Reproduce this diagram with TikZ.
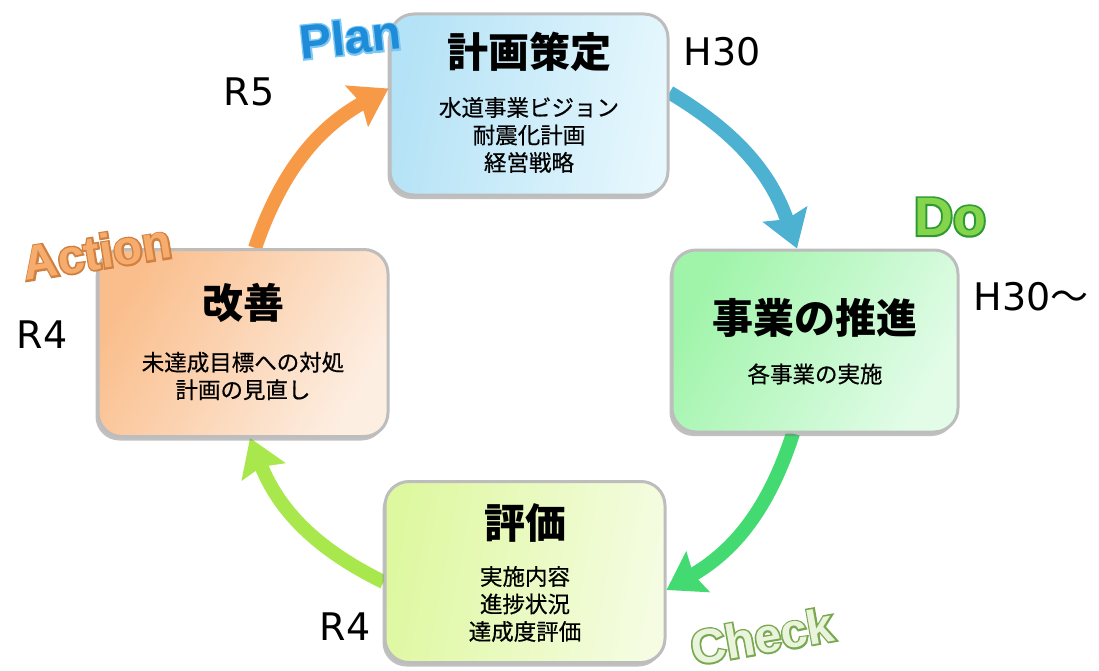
\documentclass[tikz,border=0pt]{standalone}
\usepackage{fontspec}
\setmainfont{DejaVu Sans}
\newfontfamily\cjk{Noto Sans CJK JP}
\newfontfamily\cjkm[FakeBold=0.6]{Noto Sans CJK JP}
\newfontfamily\waF{Liberation Sans Bold}
\newfontfamily\waO[FakeBold=7]{Liberation Sans Bold}
\usetikzlibrary{arrows.meta,shadows,calc,backgrounds}
\definecolor{cOrange}{HTML}{F79A48}
\definecolor{cBlue}{HTML}{4DB2D2}
\definecolor{cGreen}{HTML}{44DA72}
\definecolor{cLime}{HTML}{A8E84C}
\definecolor{bord}{HTML}{BDBDBD}
\definecolor{planA}{HTML}{B4E2F6}
\definecolor{planB}{HTML}{E6F7FD}
\definecolor{doA}{HTML}{A0F4AA}
\definecolor{doB}{HTML}{E2FCE8}
\definecolor{chkA}{HTML}{DEF8A0}
\definecolor{chkB}{HTML}{F5FCE2}
\definecolor{actA}{HTML}{FABE8C}
\definecolor{actB}{HTML}{FDEEE2}
\definecolor{waPlanF}{HTML}{1E8CD8}
\definecolor{waPlanO}{HTML}{7CC8F2}
\definecolor{waDoF}{HTML}{84D44C}
\definecolor{waDoO}{HTML}{2E9A34}
\definecolor{waChkF}{HTML}{EAF4DC}
\definecolor{waChkO}{HTML}{78A850}
\definecolor{waActF}{HTML}{F6AC6C}
\definecolor{waActO}{HTML}{D08040}
\tikzset{
  box/.style={draw=bord, line width=3pt, rounded corners=24pt,
    drop shadow={shadow xshift=-2.5pt, shadow yshift=-4pt, opacity=0.45, fill=black!55}},
  ttl/.style={font=\cjk\bfseries\fontsize{41}{46}\selectfont, inner sep=0pt},
  sub/.style={font=\cjkm\fontsize{22.5}{27.5}\selectfont, align=center, inner sep=0pt},
  arr/.style={line width=14pt, -{Stealth[length=36pt,width=46pt,inset=5pt]}},
  lab/.style={font=\fontsize{38}{40}\selectfont, inner sep=0pt},
  wa/.style={inner sep=0pt},
}
% word-art label: outline copy (emboldened) under a filled copy
\newcommand\wart[7]{%
  \node[wa,rotate=#3,text=#5,font=\waO\fontsize{#4}{#4}\selectfont] (#1-o) at (#2) {#7};
  \node[wa,rotate=#3,text=#6,font=\waF\fontsize{#4}{#4}\selectfont] (#1) at (#2) {#7};
}
\begin{document}
\begin{tikzpicture}[x=1pt,y=1pt]
\useasboundingbox (0,0) rectangle (1099,-671);

% boxes
\node[box, minimum width=278pt, minimum height=181pt,
  left color=planA, right color=planB, shading angle=80] (plan) at (529,-104.5) {};
\node[box, minimum width=286pt, minimum height=182pt,
  left color=doA, right color=doB, shading angle=60] (do) at (815,-341) {};
\node[box, minimum width=280pt, minimum height=181pt,
  left color=chkA, right color=chkB, shading angle=80] (chk) at (525,-572) {};
\node[box, minimum width=290pt, minimum height=187pt,
  left color=actA, right color=actB, shading angle=60] (act) at (243,-343) {};

% cycle arrows (behind the boxes)
\begin{pgfonlayer}{background}
\draw[arr, cOrange] ([xshift=12pt]act.north) to[bend left=21] ([yshift=16pt]plan.west);
\draw[arr, cBlue] ([yshift=12pt]plan.east) to[bend left=20] ([xshift=-18pt]do.north);
\draw[arr, cGreen] ([xshift=-22pt]do.south) to[bend left=21] ([yshift=-18pt]chk.east);
\draw[arr, cLime] ([yshift=-10pt]chk.west) to[bend left=21] ([xshift=7pt]act.south);
\end{pgfonlayer}

% box texts
\node[ttl] (plan-t) at ($(plan.center)+(0,52.5)$) {計画策定};
\node[sub] (plan-s) at ($(plan.center)+(0,-30.5)$) {水道事業ビジョン\\耐震化計画\\経営戦略};
\node[ttl] (do-t) at ($(do.center)+(0,23)$) {事業の推進};
\node[sub] (do-s) at ($(do.center)+(0,-33)$) {各事業の実施};
\node[ttl] (chk-t) at ($(chk.center)+(0,49)$) {評価};
\node[sub] (chk-s) at ($(chk.center)+(0,-32)$) {実施内容\\進捗状況\\達成度評価};
\node[ttl] (act-t) at ($(act.center)+(0,40)$) {改善};
\node[sub] (act-s) at ($(act.center)+(0,-33)$) {未達成目標への対処\\計画の見直し};

% year labels
\node[lab] (yH30) at (722,-52) {H30};
\node[lab] (yR5) at (249,-92) {R5};
\node[lab] (yH30b) at (1031,-297) {H30{\cjk ～}};
\node[lab] (yR4a) at (42,-335) {R4};
\node[lab] (yR4b) at (345,-627) {R4};

% word-art labels
\wart{wPlan}{350,-37}{6}{48}{waPlanO}{waPlanF}{Plan}
\wart{wDo}{950,-217}{0}{54}{waDoO}{waDoF}{Do}
\wart{wChk}{762,-636}{10}{48}{waChkO}{waChkF}{Check}
\wart{wAct}{97,-252}{9}{48}{waActO}{waActF}{Action}
\end{tikzpicture}
\end{document}
